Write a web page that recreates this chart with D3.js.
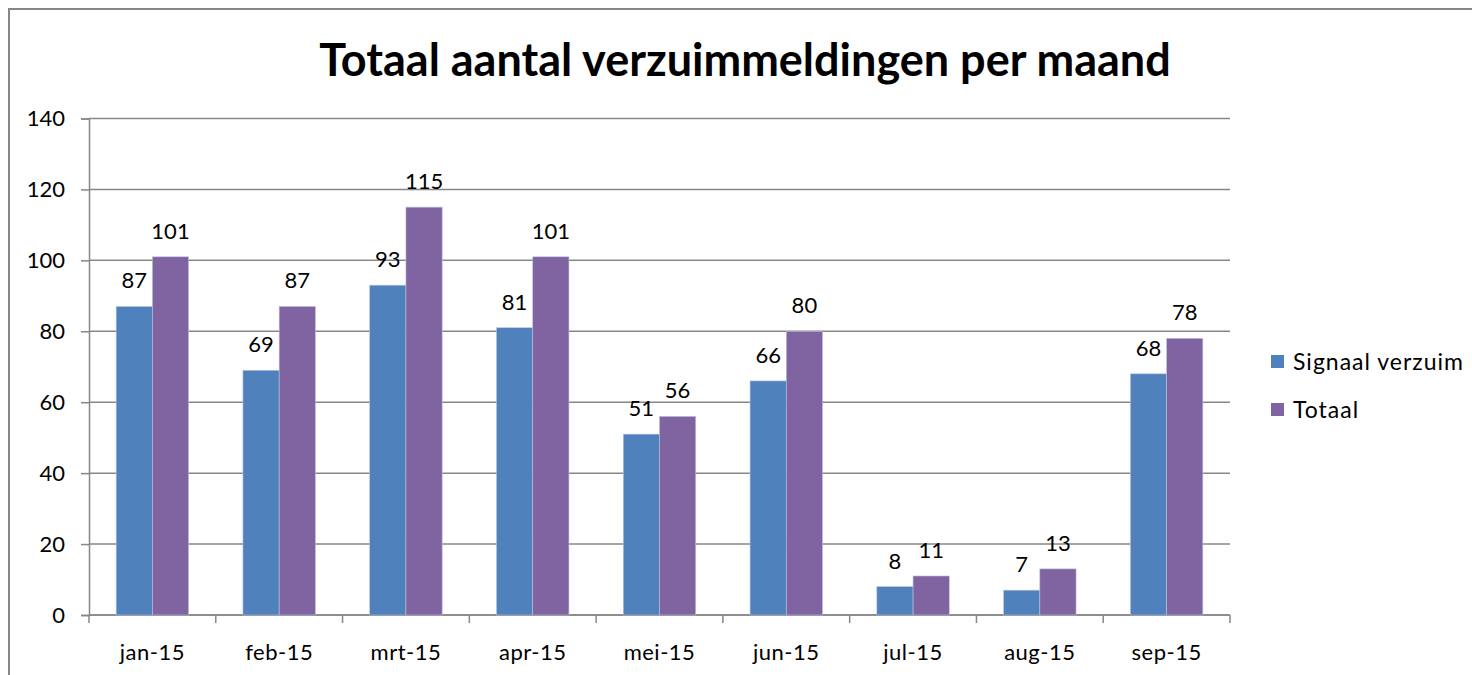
<!DOCTYPE html>
<html>
<head>
<meta charset="utf-8">
<script src="https://cdn.jsdelivr.net/npm/d3@7"></script>
<style>
  html, body { margin: 0; padding: 0; background: #fff; }
  svg { display: block; font-family: Lato, "Open Sans", sans-serif; }
</style>
</head>
<body>
<div id="chart"></div>
<script>
// Data
const months = ['jan-15', 'feb-15', 'mrt-15', 'apr-15', 'mei-15', 'jun-15', 'jul-15', 'aug-15', 'sep-15'];
const signaal = [87, 69, 93, 81, 51, 66, 8, 7, 68];
const totaal = [101, 87, 115, 101, 56, 80, 11, 13, 78];
const seriesNames = ['Signaal verzuim', 'Totaal'];
const seriesColors = ['#4F81BD', '#8064A2'];
const yTicks = [0, 20, 40, 60, 80, 100, 120, 140];

const width = 1472;
const height = 675;
const plot = { left: 89, right: 1230, top: 118.5, bottom: 615 };

const svg = d3.select('#chart')
    .append('svg')
    .attr('width', width)
    .attr('height', height);

// Outer chart border
svg.append('rect')
    .attr('x', 9).attr('y', 9)
    .attr('width', width + 20).attr('height', height + 20)
    .attr('fill', 'none')
    .attr('stroke', '#878787')
    .attr('stroke-width', 2);

// Title
svg.append('text')
    .attr('x', 745)
    .attr('y', 76)
    .attr('text-anchor', 'middle')
    .style('font-weight', 'bold')
    .style('font-size', '45px')
    .text('Totaal aantal verzuimmeldingen per maand');

// Scales
const x = d3.scaleBand()
    .domain(months)
    .range([plot.left, plot.right]);

const barW = x.bandwidth() / 3.5;
const xInner = d3.scaleBand()
    .domain(seriesNames)
    .range([x.bandwidth() / 2 - barW, x.bandwidth() / 2 + barW]);

const y = d3.scaleLinear()
    .domain([0, 140])
    .range([plot.bottom, plot.top]);

// Gridlines
svg.append('g')
    .selectAll('line')
    .data(yTicks)
    .enter()
    .append('line')
    .attr('x1', plot.left)
    .attr('x2', plot.right)
    .attr('y1', d => y(d))
    .attr('y2', d => y(d))
    .attr('stroke', '#878787')
    .attr('stroke-width', 1.5);

// Y axis
const yAxis = svg.append('g')
    .attr('transform', `translate(${plot.left}, 0)`)
    .call(d3.axisLeft(y).tickValues(yTicks).tickSize(8).tickPadding(16));
yAxis.select('.domain').attr('stroke', '#878787').attr('stroke-width', 1.5);
yAxis.selectAll('.tick line').attr('stroke', '#878787').attr('stroke-width', 1.5);
yAxis.selectAll('.tick text')
    .style('font-size', '22px')
    .style('font-family', 'Lato, "Open Sans", sans-serif')
    .attr('fill', '#000');

// X axis with ticks at category boundaries
const xAxisG = svg.append('g')
    .attr('transform', `translate(0, ${plot.bottom})`);
xAxisG.append('line')
    .attr('x1', plot.left).attr('x2', plot.right)
    .attr('stroke', '#878787').attr('stroke-width', 1.5);
xAxisG.selectAll('.bound')
    .data(months.concat(['end']))
    .enter()
    .append('line')
    .attr('class', 'bound')
    .attr('x1', (d, i) => i < months.length ? x(d) : plot.right)
    .attr('x2', (d, i) => i < months.length ? x(d) : plot.right)
    .attr('y1', 0).attr('y2', 8)
    .attr('stroke', '#878787').attr('stroke-width', 1.5);
xAxisG.selectAll('.label')
    .data(months)
    .enter()
    .append('text')
    .attr('class', 'label')
    .attr('x', d => x(d) + x.bandwidth() / 2)
    .attr('y', 45)
    .attr('text-anchor', 'middle')
    .style('font-size', '22px')
    .style('letter-spacing', '0.5px')
    .text(d => d);

// Bars
const rows = months.map((m, i) => ({ month: m, values: [signaal[i], totaal[i]] }));

const groups = svg.selectAll('.month-group')
    .data(rows)
    .enter()
    .append('g')
    .attr('class', 'month-group')
    .attr('transform', d => `translate(${x(d.month)}, 0)`);

groups.selectAll('rect')
    .data(d => d.values.map((v, j) => ({ name: seriesNames[j], value: v, j })))
    .enter()
    .append('rect')
    .attr('x', d => xInner(d.name))
    .attr('y', d => y(d.value))
    .attr('width', xInner.bandwidth())
    .attr('height', d => plot.bottom - y(d.value))
    .attr('fill', d => seriesColors[d.j])
    .attr('stroke', '#b9c3dc')
    .attr('stroke-width', 0.6);

groups.selectAll('.value')
    .data(d => d.values.map((v, j) => ({ name: seriesNames[j], value: v })))
    .enter()
    .append('text')
    .attr('class', 'value')
    .attr('x', d => xInner(d.name) + xInner.bandwidth() / 2)
    .attr('y', d => y(d.value) - 18)
    .attr('text-anchor', 'middle')
    .style('font-size', '22px')
    .text(d => d.value);

// Legend
const legend = svg.append('g')
    .attr('transform', 'translate(1271, 355)');
const entries = legend.selectAll('.legend-entry')
    .data(seriesNames)
    .enter()
    .append('g')
    .attr('class', 'legend-entry')
    .attr('transform', (d, i) => `translate(0, ${i * 48})`);
entries.append('rect')
    .attr('width', 13)
    .attr('height', 13)
    .attr('fill', (d, i) => seriesColors[i]);
entries.append('text')
    .attr('x', 22)
    .attr('y', 15)
    .style('font-size', '23px')
    .style('letter-spacing', '1px')
    .text(d => d);
</script>
</body>
</html>
